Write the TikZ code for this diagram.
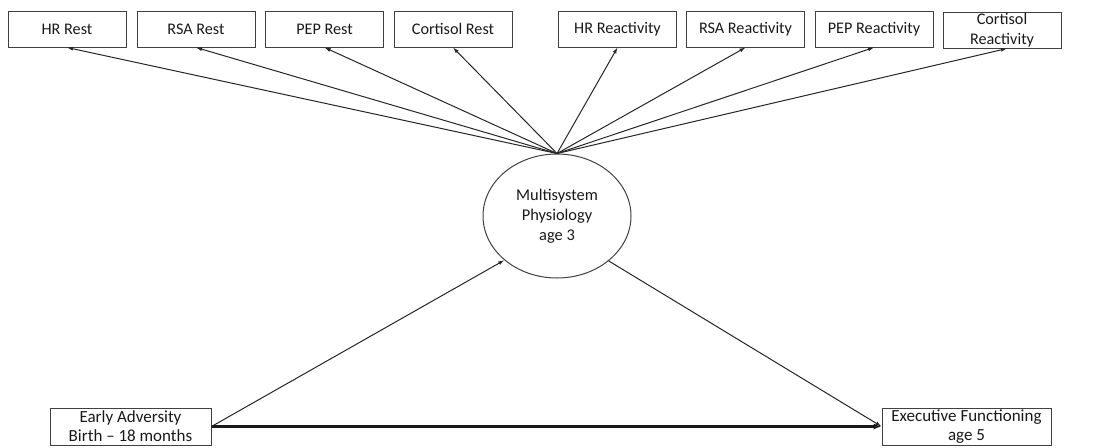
\documentclass[tikz,border=0pt]{standalone}
\usepackage{fontspec}
\setmainfont{Carlito}
\usetikzlibrary{shapes.geometric,arrows.meta}
\begin{document}
\begin{tikzpicture}[x=1pt,y=-1pt,
  box/.style={draw=black!75,line width=1pt,minimum width=118pt,minimum height=36pt,inner sep=0pt,align=center,text=black!90,font=\fontsize{16.2}{18}\selectfont},
  lbox/.style={draw=black!75,line width=1pt,minimum height=37pt,inner sep=0pt,align=center,text=black!90,font=\fontsize{17}{19}\selectfont},
  arr/.style={-{Latex[length=6pt,width=4pt]},line width=1pt,draw=black!85},
  thick arr/.style={-{Latex[length=8pt,width=6pt]},line width=2.2pt,draw=black!90}]
\useasboundingbox (0,0) rectangle (1102,447);
\node[box] (b1) at (67,29) {HR Rest};
\node[box] (b2) at (196,29) {RSA Rest};
\node[box] (b3) at (324.5,29) {PEP Rest};
\node[box] (b4) at (453,29) {Cortisol Rest};
\node[box] (b5) at (617.5,29) {HR Reactivity};
\node[box] (b6) at (745.5,29) {RSA Reactivity};
\node[box] (b7) at (874,29) {PEP Reactivity};
\node[box, font=\fontsize{16.2}{20}\selectfont] (b8) at (1002,30) {Cortisol\\Reactivity};
\node[ellipse,draw=black!75,line width=1pt,minimum width=148pt,minimum height=124pt,inner sep=0pt,align=center,text=black!90,font=\fontsize{16.4}{20}\selectfont] (m) at (557,216) {Multisystem\\Physiology\\age 3};
\node[lbox,minimum width=161pt] (ea) at (130.5,426.5) {Early Adversity\\Birth -- 18 months};
\node[lbox,minimum width=169pt] (ef) at (966.5,426.5) {Executive Functioning\\age 5};
\coordinate (top) at (m.north);
\foreach \b in {b1,b2,b3,b4,b5,b6,b7} \draw[arr] (top) -- (\b.south);
\draw[arr] (top) -- ([xshift=5pt]b8.south);
\draw[arr] (ea.east) -- (m.220);
\draw[arr] (m.-41) -- (ef.west);
\draw[thick arr] (ea.east) -- (ef.west);
\end{tikzpicture}
\end{document}
